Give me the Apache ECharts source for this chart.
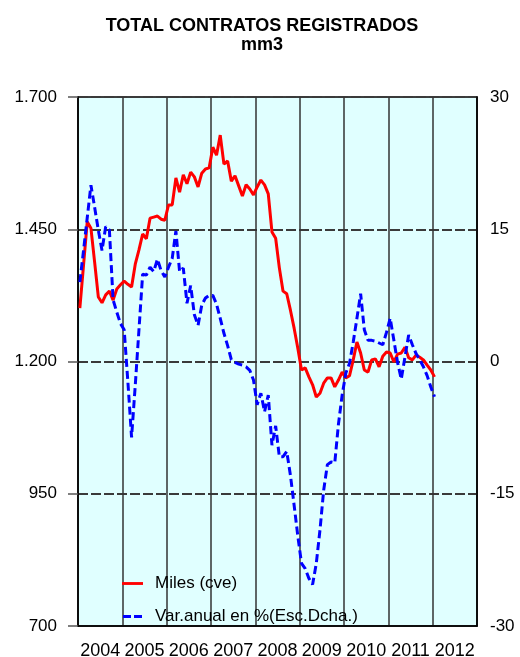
<!DOCTYPE html>
<html>
<head>
<meta charset="utf-8">
<script src="https://cdn.jsdelivr.net/npm/echarts@6/dist/echarts.min.js"></script>
<style>
html,body{margin:0;padding:0;background:#fff;}
#c{width:520px;height:657px;}
</style>
</head>
<body>
<div id="c"></div>
<script>
// ---- data ----
const years = ['2004','2005','2006','2007','2008','2009','2010','2011','2012'];
const leftTickLabels = ['700','950','1.200','1.450','1.700'];
const rightTickLabels = ['-30','-15','0','15','30'];
const seriesNames = ['Miles (cve)', 'Var.anual en %(Esc.Dcha.)'];
// monthly values from Jan 2004 to Jan 2012
const miles = [
 1301,1382,1464,1452,1388,1322,1311,1326,1333,1316,1337,1345,
 1352,1346,1341,1384,1411,1441,1432,1471,1473,1475,1469,1467,
 1496,1496,1547,1520,1553,1536,1558,1549,1530,1556,1564,1566,
 1605,1590,1628,1573,1579,1541,1551,1532,1513,1534,1526,1515,
 1530,1543,1534,1517,1445,1433,1377,1333,1328,1297,1263,1225,
 1184,1188,1171,1156,1133,1140,1159,1169,1169,1152,1165,1180,
 1169,1173,1203,1237,1216,1184,1180,1203,1205,1190,1210,1218,
 1216,1199,1214,1216,1227,1207,1203,1212,1208,1203,1193,1184,
 1171
];
const varAnual = [
 9.0,12.6,16.3,20.0,17.5,14.9,12.6,15.3,14.9,7.0,5.6,4.3,
 3.6,-2.3,-8.6,-2.7,3.6,9.9,9.8,10.7,10.2,11.6,10.3,9.6,
 10.7,11.7,14.8,10.2,10.6,6.6,8.6,5.3,4.1,6.4,7.2,7.5,
 7.5,6.5,4.9,3.2,1.8,0.2,-0.1,-0.3,-0.4,-0.6,-1.0,-2.1,
 -4.9,-3.6,-5.7,-3.8,-9.5,-7.3,-10.8,-10.8,-10.2,-12.9,-16.3,-19.8,
 -22.9,-23.5,-24.6,-25.3,-22.9,-19.1,-14.6,-11.7,-11.4,-11.5,-7.1,-3.8,
 -1.3,-0.2,2.2,4.9,7.7,3.6,2.4,2.4,2.3,2.1,1.9,3.3,
 4.9,2.4,-0.1,-2.0,0.5,3.0,1.9,0.9,0.2,-0.6,-1.6,-2.9,
 -4.0
];
// ---- build ----
const months = [];
years.forEach(y => { for (let m = 1; m <= 12; m++) months.push(y + '-' + (m < 10 ? '0' + m : m)); });
const FONT = '"Liberation Sans", Arial, sans-serif';
const chart = echarts.init(document.getElementById('c'), null, {renderer: 'canvas'});
chart.setOption({
  animation: false,
  backgroundColor: '#ffffff',
  title: {
    text: 'TOTAL CONTRATOS REGISTRADOS\nmm3',
    left: 257, top: 12, textAlign: 'center',
    textStyle: {fontFamily: FONT, fontSize: 18, fontWeight: 'bold', color: '#000', lineHeight: 19}
  },
  grid: {
    left: 78, right: 43, top: 97, bottom: 31,
    containLabel: false, outerBoundsMode: 'none',
    show: true, backgroundColor: '#e0ffff', borderColor: '#000', borderWidth: 1.5
  },
  legend: {
    data: [
      {name: seriesNames[0], icon: 'path://M0,0h22v3h-22z'},
      {name: seriesNames[1], icon: 'path://M0,0h8v3h-8zM11,0h8v3h-8z'}
    ],
    orient: 'vertical', left: 122, top: 575, padding: 0,
    itemWidth: 21, itemHeight: 3, itemGap: 16,
    textStyle: {fontFamily: FONT, fontSize: 17, color: '#000', padding: [0, 0, 0, 7]}
  },
  xAxis: [
    {
      type: 'category', data: months, boundaryGap: true,
      axisLine: {show: false}, axisTick: {show: false}, axisLabel: {show: false},
      splitLine: {show: true, interval: 11, lineStyle: {color: '#333', width: 1.5}}
    },
    {
      type: 'category', data: years, boundaryGap: true, position: 'bottom', offset: 0,
      axisLine: {show: true, lineStyle: {color: '#000', width: 1.5}},
      axisTick: {show: false},
      axisLabel: {interval: 0, margin: 16, fontFamily: FONT, fontSize: 18, color: '#000'},
      splitLine: {show: false}
    }
  ],
  yAxis: [
    {
      type: 'value', min: 700, max: 1700, interval: 250, position: 'left',
      axisLine: {show: true, lineStyle: {color: '#000', width: 1.5}},
      axisTick: {show: true, length: 10, lineStyle: {color: '#555', width: 1.5}},
      axisLabel: {
        margin: 21, fontFamily: FONT, fontSize: 17, color: '#000',
        formatter: v => leftTickLabels[Math.round((v - 700) / 250)]
      },
      splitLine: {show: true, lineStyle: {color: '#3a3a3a', width: 2, type: [10, 3]}}
    },
    {
      type: 'value', min: -30, max: 30, interval: 15, position: 'right',
      axisLine: {show: true, lineStyle: {color: '#000', width: 1.5}},
      axisTick: {show: false},
      axisLabel: {
        margin: 13, fontFamily: FONT, fontSize: 17, color: '#000',
        formatter: v => rightTickLabels[Math.round((v + 30) / 15)]
      },
      splitLine: {show: false}
    }
  ],
  series: [
    {
      name: seriesNames[0], type: 'line', xAxisIndex: 0, yAxisIndex: 0,
      data: miles, symbol: 'none', z: 3,
      lineStyle: {color: '#ff0000', width: 3},
      itemStyle: {color: '#ff0000'}
    },
    {
      name: seriesNames[1], type: 'line', xAxisIndex: 0, yAxisIndex: 1,
      data: varAnual, symbol: 'none', z: 4,
      lineStyle: {color: '#0000ff', width: 3, type: [8, 4]},
      itemStyle: {color: '#0000ff'}
    }
  ]
});
</script>
</body>
</html>
